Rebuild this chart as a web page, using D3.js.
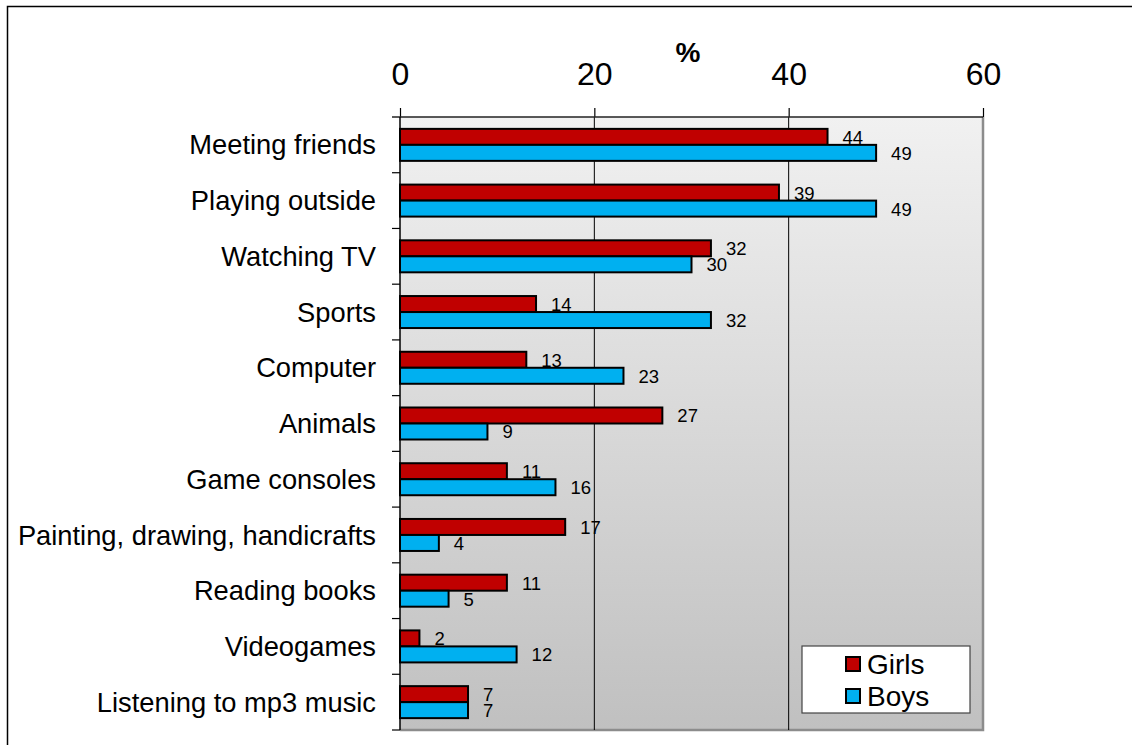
<!DOCTYPE html>
<html>
<head>
<meta charset="utf-8">
<script src="https://cdn.jsdelivr.net/npm/d3@7"></script>
<style>
  body { margin: 0; background: #fff; }
  svg { font-family: "Liberation Sans", Arial, sans-serif; }
</style>
</head>
<body>
<div id="chart"></div>
<script>
// data
let categories = ["Meeting friends", "Playing outside", "Watching TV", "Sports", "Computer",
    "Animals", "Game consoles", "Painting, drawing, handicrafts", "Reading books",
    "Videogames", "Listening to mp3 music"];
let girls = [44, 39, 32, 14, 13, 27, 11, 17, 11, 2, 7];
let boys = [49, 49, 30, 32, 23, 9, 16, 4, 5, 12, 7];
let seriesNames = ["Girls", "Boys"];
let seriesColors = ["#c00000", "#00b0f0"];
let xTicks = [0, 20, 40, 60];

let svgWidth = 1132;
let svgHeight = 745;

let margin = { top: 117, right: 149, bottom: 15, left: 400 };
let width = svgWidth - margin.left - margin.right;
let height = svgHeight - margin.top - margin.bottom;

let svg = d3.select("#chart")
    .append("svg")
    .attr("width", svgWidth)
    .attr("height", svgHeight);

// outer frame (runs off the page on right and bottom)
svg.append("rect")
    .attr("x", 7.5).attr("y", 6.5)
    .attr("width", svgWidth).attr("height", svgHeight)
    .attr("fill", "none").attr("stroke", "#000").attr("stroke-width", 1.5);

let defs = svg.append("defs");
let grad = defs.append("linearGradient")
    .attr("id", "bg").attr("x1", 0).attr("y1", 0).attr("x2", 0).attr("y2", 1);
grad.append("stop").attr("offset", "0%").attr("stop-color", "#f1f1f1");
grad.append("stop").attr("offset", "100%").attr("stop-color", "#c0c0c0");

let chartGroup = svg.append("g")
    .attr("transform", `translate(${margin.left}, ${margin.top})`);

let x = d3.scaleLinear().domain([0, 60]).range([0, width]);
let y0 = d3.scaleBand().domain(categories).range([0, height]);
let barH = 16;
let y1 = d3.scaleBand().domain(seriesNames)
    .range([y0.bandwidth() / 2 - barH, y0.bandwidth() / 2 + barH]);

// plot background
chartGroup.append("rect")
    .attr("width", width).attr("height", height)
    .attr("fill", "url(#bg)");

// right and bottom border (gray)
chartGroup.append("path")
    .attr("d", `M${width},0V${height}H0`)
    .attr("fill", "none").attr("stroke", "#8c8c8c").attr("stroke-width", 2.5);

// gridlines
chartGroup.selectAll(".grid")
    .data(xTicks.filter(t => t > 0 && t < 60))
    .enter().append("line")
    .attr("x1", d => x(d)).attr("x2", d => x(d))
    .attr("y1", 0).attr("y2", height)
    .attr("stroke", "#000").attr("stroke-width", 1);

// top axis
let topAxis = d3.axisTop(x).tickValues(xTicks).tickSize(9).tickPadding(23).tickSizeOuter(0);
let gTop = chartGroup.append("g").call(topAxis);
gTop.select(".domain").remove();
gTop.append("line").attr("x1", -8).attr("x2", width).attr("y1", 0).attr("y2", 0)
    .attr("stroke", "#222").attr("stroke-width", 1.5);
gTop.selectAll(".tick line").attr("stroke", "#000").attr("stroke-width", 1.2);
gTop.selectAll(".tick text")
    .attr("font-size", 32).attr("fill", "#000")
    .attr("font-family", "Liberation Sans, Arial, sans-serif");

// left axis with ticks between categories
chartGroup.append("line")
    .attr("x1", 0).attr("x2", 0).attr("y1", 0).attr("y2", height)
    .attr("stroke", "#000").attr("stroke-width", 1.5);
chartGroup.selectAll(".ytick")
    .data(categories)
    .enter().append("line")
    .attr("x1", -8).attr("x2", 0)
    .attr("y1", d => y0(d) + y0.bandwidth()).attr("y2", d => y0(d) + y0.bandwidth())
    .attr("stroke", "#000").attr("stroke-width", 1.2);

chartGroup.selectAll(".cat")
    .data(categories)
    .enter().append("text")
    .attr("x", -24)
    .attr("y", d => y0(d) + y0.bandwidth() / 2)
    .attr("dy", "0.35em")
    .attr("text-anchor", "end")
    .attr("font-size", 27.3)
    .text(d => d);

// bars
let rows = categories.map((c, i) => ({ cat: c, vals: [girls[i], boys[i]] }));
let groups = chartGroup.selectAll(".grp")
    .data(rows)
    .enter().append("g")
    .attr("transform", d => `translate(0, ${y0(d.cat)})`);

groups.selectAll("rect")
    .data(d => d.vals.map((v, j) => ({ v: v, s: seriesNames[j], j: j })))
    .enter().append("rect")
    .attr("x", 0)
    .attr("y", d => y1(d.s))
    .attr("width", d => x(d.v))
    .attr("height", y1.bandwidth())
    .attr("fill", d => seriesColors[d.j])
    .attr("stroke", "#000")
    .attr("stroke-width", 2);

groups.selectAll(".lbl")
    .data(d => d.vals.map((v, j) => ({ v: v, s: seriesNames[j] })))
    .enter().append("text")
    .attr("x", d => x(d.v) + 15)
    .attr("y", d => y1(d.s) + y1.bandwidth() - 1)
    .attr("font-size", 18.5)
    .text(d => d.v);

// axis title
svg.append("text")
    .attr("x", 688).attr("y", 62)
    .attr("text-anchor", "middle")
    .attr("font-size", 28).attr("font-weight", "bold")
    .text("%");

// legend
let legend = svg.append("g").attr("transform", "translate(802, 646)");
legend.append("rect")
    .attr("width", 168).attr("height", 67)
    .attr("fill", "#fff").attr("stroke", "#444").attr("stroke-width", 1.2);
let li = legend.selectAll(".li")
    .data(seriesNames)
    .enter().append("g")
    .attr("transform", (d, i) => `translate(44, ${11 + i * 32})`);
li.append("rect")
    .attr("width", 14).attr("height", 14)
    .attr("fill", (d, i) => seriesColors[i])
    .attr("stroke", "#000").attr("stroke-width", 2);
li.append("text")
    .attr("x", 21).attr("y", 7)
    .attr("dy", "0.36em")
    .attr("font-size", 28)
    .text(d => d);
</script>
</body>
</html>
